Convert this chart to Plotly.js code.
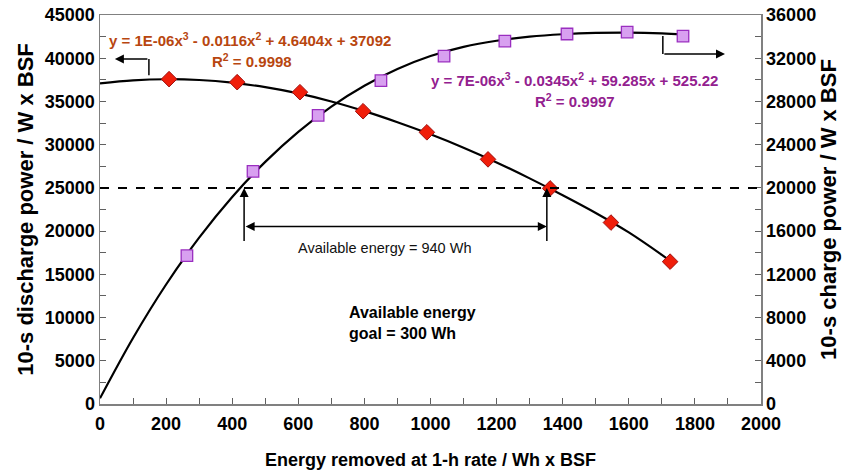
<!DOCTYPE html>
<html>
<head>
<meta charset="utf-8">
<script src="https://cdn.plot.ly/plotly-3.0.1.min.js"></script>
<style>html,body{margin:0;padding:0;background:#fff}#chart{width:846px;height:472px}</style>
</head>
<body>
<div id="chart"></div>
<script>
// Measured discharge power (left axis, W x BSF)
const dischargeX = [209, 415, 605, 796, 989, 1174, 1362, 1546, 1725];
const dischargeY = [37580, 37230, 36070, 33870, 31430, 28300, 24940, 20990, 16470];
// Measured charge power (right axis, W x BSF)
const chargeX = [263, 463, 660, 850, 1041, 1225, 1413, 1595, 1764];
const chargeY = [13730, 21530, 26720, 29920, 32200, 33590, 34240, 34420, 34050];
// Trend lines
const dischargeFitX = [0, 100, 200, 300, 400, 500, 600, 700, 800, 900, 1000, 1100, 1200, 1300, 1400, 1500, 1600, 1700, 1725];
const dischargeFitY = [37100, 37440, 37570, 37480, 37170, 36650, 35930, 35000, 33880, 32600, 31200, 29650, 27950, 26100, 24150, 22100, 19850, 17250, 16550];
const chargeFitX = [0, 100, 200, 300, 400, 500, 600, 700, 800, 900, 1000, 1100, 1200, 1300, 1400, 1500, 1600, 1700, 1764];
const chargeFitY = [525, 6110, 11060, 15390, 19160, 22410, 25190, 27520, 29450, 31000, 32200, 33050, 33620, 34000, 34220, 34340, 34370, 34300, 34200];

const F = 'Arial, "Liberation Sans", sans-serif';
const traces = [
  {x: dischargeFitX, y: dischargeFitY, mode: 'lines', line: {color: '#000', width: 2.2, shape: 'spline'}, hoverinfo: 'skip', yaxis: 'y'},
  {x: chargeFitX, y: chargeFitY, mode: 'lines', line: {color: '#000', width: 2.2, shape: 'spline'}, hoverinfo: 'skip', yaxis: 'y2'},
  {x: dischargeX, y: dischargeY, mode: 'markers', yaxis: 'y',
   marker: {symbol: 'diamond', size: 12, color: '#F01E0A', line: {color: '#A01010', width: 1}}},
  {x: chargeX, y: chargeY, mode: 'markers', yaxis: 'y2',
   marker: {symbol: 'square', size: 11.5, color: '#D8A0F0', line: {color: '#9A2EC0', width: 1.3}}}
];

const axisLine = {showline: true, linecolor: '#808080', linewidth: 1.5, ticks: 'inside', ticklen: 6, tickcolor: '#606060', tickwidth: 1, showgrid: false, zeroline: false,
  tickformat: 'd', exponentformat: 'none',
  tickfont: {family: F, size: 18, color: '#000', weight: 'bold'}};

const layout = {
  width: 846, height: 472,
  margin: {l: 100, r: 85, t: 15, b: 68},
  paper_bgcolor: '#fff', plot_bgcolor: '#fff',
  showlegend: false,
  font: {family: F},
  xaxis: Object.assign({}, axisLine, {range: [0, 2000], dtick: 200, tick0: 0, mirror: true, ticklabelstandoff: 3,
    minor: {dtick: 100, ticks: 'inside', ticklen: 6, tickcolor: '#606060'},
    title: {text: 'Energy removed at 1-h rate / Wh x BSF', font: {family: F, size: 18, weight: 'bold', color: '#000'}, standoff: 20}}),
  yaxis: Object.assign({}, axisLine, {range: [0, 45000], dtick: 5000, tick0: 0,
    minor: {dtick: 2500, ticks: 'inside', ticklen: 6, tickcolor: '#606060'},
    title: {text: '10-s discharge power / W x BSF', font: {family: F, size: 22, weight: 'bold', color: '#000'}, standoff: 5}}),
  yaxis2: Object.assign({}, axisLine, {range: [0, 36000], dtick: 4000, tick0: 0, overlaying: 'y', side: 'right',
    minor: {dtick: 2000, ticks: 'inside', ticklen: 6, tickcolor: '#606060'},
    title: {text: '10-s charge power / W x BSF', font: {family: F, size: 22, weight: 'bold', color: '#000'}, standoff: 3}}),
  shapes: [
    {type: 'line', xref: 'paper', x0: 0, x1: 1, yref: 'y', y0: 25000, y1: 25000, line: {color: '#000', width: 2, dash: 'dash'}},
    {type: 'line', xref: 'x', yref: 'y', x0: 148, x1: 148, y0: 38040, y1: 39900, line: {color: '#000', width: 1.5}},
    {type: 'line', xref: 'x', yref: 'y', x0: 1703, x1: 1703, y0: 42560, y1: 40480, line: {color: '#000', width: 1.5}}
  ],
  annotations: [
    // arrows
    {xref: 'x', yref: 'y', axref: 'x', ayref: 'y', x: 45, y: 39900, ax: 148, ay: 39900, text: '', showarrow: true, arrowhead: 2, arrowsize: 1.2, arrowwidth: 1.5, arrowcolor: '#000', standoff: 0, startstandoff: 0},
    {xref: 'x', yref: 'y', axref: 'x', ayref: 'y', x: 1891, y: 40480, ax: 1703, ay: 40480, text: '', showarrow: true, arrowhead: 2, arrowsize: 1.2, arrowwidth: 1.5, arrowcolor: '#000', standoff: 0, startstandoff: 0},
    {xref: 'x', yref: 'y', axref: 'x', ayref: 'y', x: 436, y: 25000, ax: 436, ay: 18670, text: '', showarrow: true, arrowhead: 2, arrowsize: 1.2, arrowwidth: 1.5, arrowcolor: '#000', standoff: 0},
    {xref: 'x', yref: 'y', axref: 'x', ayref: 'y', x: 1352, y: 25000, ax: 1352, ay: 18670, text: '', showarrow: true, arrowhead: 2, arrowsize: 1.2, arrowwidth: 1.5, arrowcolor: '#000', standoff: 0},
    {xref: 'x', yref: 'y', axref: 'x', ayref: 'y', x: 1352, y: 20530, ax: 436, ay: 20530, text: '', showarrow: true, arrowhead: 2, arrowside: 'end+start', arrowsize: 1.2, arrowwidth: 1.5, arrowcolor: '#000', standoff: 0, startstandoff: 0},
    // texts
    {xref: 'x', yref: 'y', x: 862, y: 18090, text: 'Available energy = 940 Wh', showarrow: false, font: {family: F, size: 14.5, color: '#111'}},
    {xref: 'x', yref: 'y', x: 747, y: 9400, xanchor: 'left', align: 'left', text: 'Available energy<br>goal = 300 Wh', showarrow: false, font: {family: F, size: 16, color: '#000', weight: 'bold'}},
    {xref: 'x', yref: 'y', x: 454, y: 42220, text: 'y = 1E-06x<sup>3</sup> - 0.0116x<sup>2</sup> + 4.6404x + 37092', showarrow: false, font: {family: F, size: 15, color: '#B8460F', weight: 'bold'}},
    {xref: 'x', yref: 'y', x: 460, y: 39780, text: 'R<sup>2</sup> = 0.9998', showarrow: false, font: {family: F, size: 15, color: '#B8460F', weight: 'bold'}},
    {xref: 'x', yref: 'y', x: 1437, y: 37580, text: 'y = 7E-06x<sup>3</sup> - 0.0345x<sup>2</sup> + 59.285x + 525.22', showarrow: false, font: {family: F, size: 15, color: '#93208F', weight: 'bold'}},
    {xref: 'x', yref: 'y', x: 1437, y: 35140, text: 'R<sup>2</sup> = 0.9997', showarrow: false, font: {family: F, size: 15, color: '#93208F', weight: 'bold'}}
  ]
};

Plotly.newPlot('chart', traces, layout, {displayModeBar: false, staticPlot: true});
</script>
</body>
</html>
